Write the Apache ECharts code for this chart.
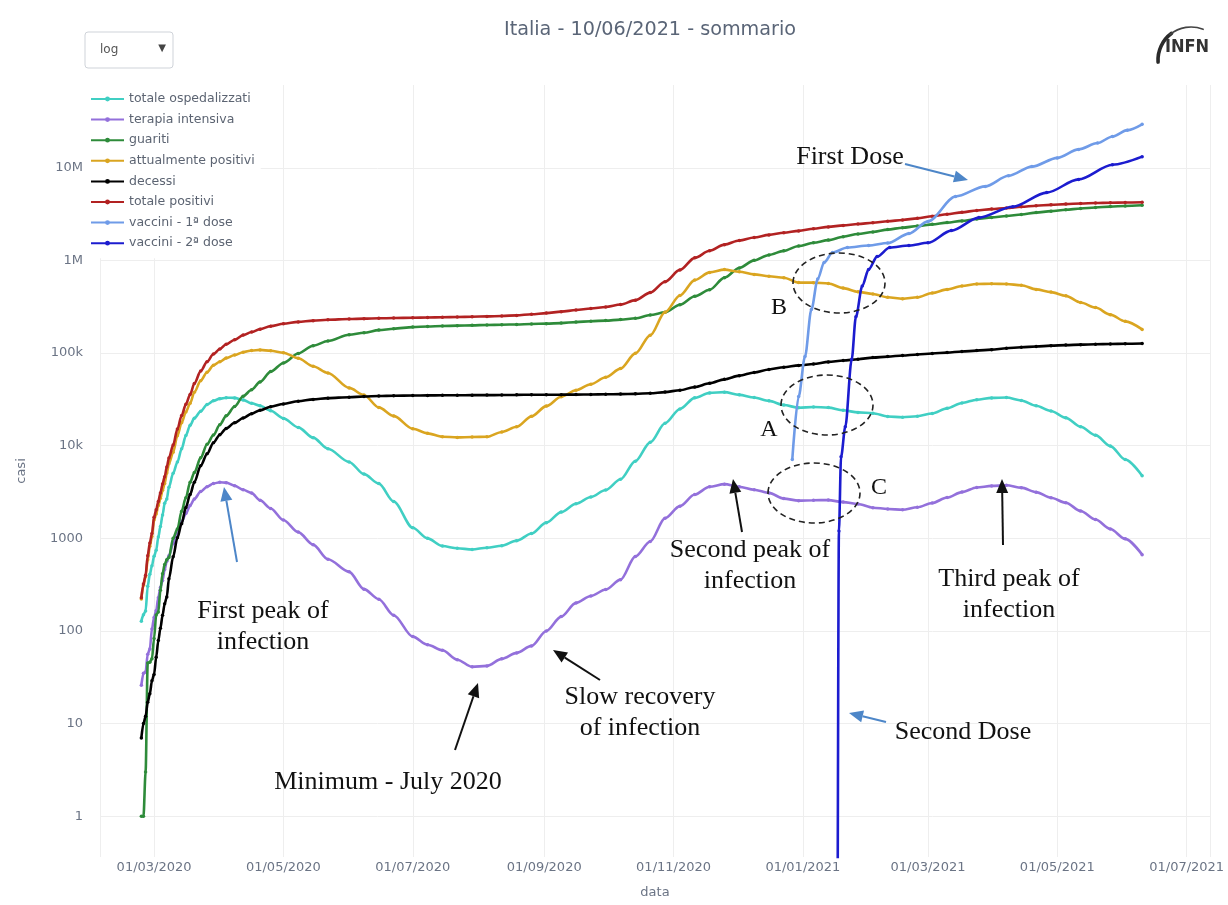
<!DOCTYPE html>
<html><head><meta charset="utf-8">
<script src="https://cdn.jsdelivr.net/npm/echarts@6/dist/echarts.min.js"></script>
<style>html,body{margin:0;padding:0;background:#fff}#chart{width:1228px;height:905px}</style>
</head><body><div id="chart"></div>
<script>
// ---------- DATA ----------
const dates = [
'2020-02-24','2020-02-25','2020-02-26','2020-02-27','2020-02-28','2020-02-29',
'2020-03-01','2020-03-02','2020-03-03','2020-03-04','2020-03-05','2020-03-06','2020-03-07','2020-03-08',
'2020-03-10','2020-03-12','2020-03-14','2020-03-16','2020-03-18','2020-03-20','2020-03-23','2020-03-26','2020-03-29',
'2020-04-01','2020-04-04','2020-04-08','2020-04-12','2020-04-16','2020-04-20','2020-04-25',
'2020-05-01','2020-05-08','2020-05-15','2020-05-22','2020-06-01','2020-06-08','2020-06-15','2020-06-22',
'2020-07-01','2020-07-08','2020-07-15','2020-07-22','2020-07-29','2020-08-05','2020-08-12','2020-08-19','2020-08-26',
'2020-09-02','2020-09-09','2020-09-16','2020-09-23','2020-09-30','2020-10-07','2020-10-14','2020-10-21','2020-10-28',
'2020-11-04','2020-11-11','2020-11-18','2020-11-25','2020-12-02','2020-12-09','2020-12-16','2020-12-23','2020-12-30',
'2021-01-06','2021-01-13','2021-01-20','2021-01-27','2021-02-03','2021-02-10','2021-02-17','2021-02-24',
'2021-03-03','2021-03-10','2021-03-17','2021-03-24','2021-03-31','2021-04-07','2021-04-14','2021-04-21','2021-04-28',
'2021-05-05','2021-05-12','2021-05-19','2021-05-26','2021-06-02','2021-06-10'
];
const totaleOspedalizzati = [
127,150,164,304,409,506,
639,742,1034,1346,1790,2394,2651,3557,
5038,6650,9268,12894,16620,19846,23512,27855,30532,
32215,33004,32809,31242,28741,27047,23805,
19723,15769,12215,9264,6680,4936,3900,2500,
1300,1000,826,781,759,792,832,944,1127,
1478,1920,2366,2797,3328,4344,6816,10876,17496,
24928,32844,37146,37877,35391,33134,30500,27500,25700,
26200,25800,24100,22900,22400,20700,20300,20800,
22300,25300,28900,31400,32800,33100,30800,27000,23700,
20000,16000,13000,9900,7100,4744
];
const terapiaIntensiva = [
26,35,36,56,64,105,
140,166,229,295,351,462,567,650,
877,1153,1518,1851,2257,2655,3204,3612,3906,
4035,3994,3693,3343,3079,2573,2102,
1578,1168,855,595,435,283,220,148,
87,71,62,49,41,42,50,58,69,
100,143,201,239,280,358,638,926,1651,
2225,2971,3612,3848,3597,3345,3095,2687,2553,
2579,2587,2461,2352,2143,2076,2034,2168,
2411,2756,3157,3545,3681,3743,3526,3151,2748,
2423,1973,1595,1261,987,667
];
const guariti = [
1,1,3,45,46,50,
83,149,160,276,414,523,589,622,
1004,1258,1966,2749,4025,5129,7432,10361,13030,
16847,20996,26491,34211,40164,48877,63120,
78249,99023,120205,135082,157707,166052,177010,183204,
190717,193640,196015,197649,199240,201140,202407,203852,206329,
207938,210801,216097,220665,224176,229929,237244,257374,275404,
332471,410090,481967,651670,829259,1001918,1146498,1269871,1433798,
1549616,1658937,1803945,1931491,2028688,2153127,2258083,2351898,
2454145,2560833,2672856,2801204,2916020,3017846,3137476,3286430,3406256,
3522816,3642005,3728079,3812667,3874083,3936627
];
const attualmentePositivi = [
221,311,385,588,821,1049,
1577,1835,2263,2706,3296,3916,5061,6387,
8514,12839,17750,23073,28710,37860,50418,62013,73880,
80572,88274,95262,102253,106607,108237,105847,
100943,87961,72070,60960,42075,35262,25909,20972,
15255,13595,12494,12301,12404,12482,14081,16014,20753,
26754,33789,39712,46114,54791,67950,99266,155442,276457,
418142,613358,743168,796000,755306,706492,675109,651012,576287,
576000,564000,503000,458000,435000,400000,385000,400000,
446000,487000,530000,557000,560000,556000,540000,487000,455000,
415000,351000,310000,260000,220000,180000
];
const decessi = [
7,10,12,17,21,29,
34,52,79,107,148,197,233,366,
631,1016,1441,2158,2978,4032,6077,8165,10779,
13155,15362,17669,19899,22170,24114,26384,
28236,30201,31610,32616,33415,33964,34371,34657,
34788,34914,34997,35082,35132,35181,35225,35412,35458,
35497,35563,35633,35758,35894,36061,36289,36832,37905,
39764,42953,47217,52028,57045,61739,66537,70395,73604,
76329,80326,83157,85881,89344,91580,94171,96666,
98974,101184,103855,106339,108879,112861,115557,117633,120256,
122005,123282,124497,125225,126221,126855
];
const totalePositivi = [
229,322,400,650,888,1128,
1694,2036,2502,3089,3858,4636,5883,7375,
10149,15113,21157,27980,35713,47021,63927,80539,97689,
110574,124632,139422,156363,168941,181228,195351,
207428,217185,223885,228658,233197,235278,237290,238833,
240760,242149,243506,245032,246776,248803,251713,255278,262540,
270189,280153,291442,302537,314861,333940,372799,449648,589766,
790377,1066401,1272352,1480874,1641610,1770149,1888144,1991278,2083689,
2201945,2303263,2390102,2475372,2553032,2644707,2737254,2848564,
2999119,3149017,3306711,3464543,3584899,3686707,3793033,3891063,3981512,
4059821,4116287,4162576,4197892,4220304,4243482
];
const vax1Dates = ['2020-12-27','2020-12-30','2021-01-02','2021-01-05','2021-01-08','2021-01-11','2021-01-15','2021-01-22',
'2021-02-01','2021-02-10','2021-02-20','2021-03-01','2021-03-14','2021-03-28','2021-04-08','2021-04-19',
'2021-05-01','2021-05-11','2021-05-20','2021-05-27','2021-06-03','2021-06-10'];
const vaccini1 = [7100,34000,92000,295000,630000,950000,1220000,1380000,
1450000,1540000,1950000,2640000,4900000,6300000,8200000,10300000,
12800000,15800000,18500000,21800000,25500000,29500000];
const vax2Dates = ['2020-12-27','2021-01-17','2021-01-18','2021-01-19','2021-01-21','2021-01-24','2021-01-26','2021-01-29',
'2021-02-01','2021-02-05','2021-02-11','2021-02-20','2021-03-01','2021-03-12','2021-03-25','2021-04-10',
'2021-04-26','2021-05-11','2021-05-27','2021-06-10'];
const vaccini2 = [0,0,1200,7600,16000,85000,247000,530000,
800000,1100000,1380000,1450000,1550000,2100000,2900000,3800000,
5400000,7500000,10800000,13200000];

const seriesNames = ['totale ospedalizzati','terapia intensiva','guariti','attualmente positivi',
  'decessi','totale positivi','vaccini - 1ª dose','vaccini - 2ª dose'];
const seriesColors = ['#40cfc3','#9370db','#2e8b3a','#daa520','#000000','#b22222','#6f9be8','#1c1ccf'];

// ---------- BUILD ----------
// plotly draws non-positive values on a log axis off the bottom edge; mimic with a tiny value (clipped)
function pairs(ds, vs){ return ds.map((d,i)=>[d, vs[i] > 0 ? vs[i] : 1e-3]); }
const seriesData = [
  pairs(dates, totaleOspedalizzati), pairs(dates, terapiaIntensiva), pairs(dates, guariti),
  pairs(dates, attualmentePositivi), pairs(dates, decessi), pairs(dates, totalePositivi),
  pairs(vax1Dates, vaccini1), pairs(vax2Dates, vaccini2)
];
function fmtDate(v){ const d=new Date(v); const p=n=>String(n).padStart(2,'0');
  return p(d.getDate())+'/'+p(d.getMonth()+1)+'/'+d.getFullYear(); }
function fmtY(v){ const e=Math.log10(v); if (Math.abs(e-Math.round(e))>1e-6) return '';
  const n=Math.round(e); if(n>=6) return Math.pow(10,n-6)+'M'; if(n>=4) return Math.pow(10,n-3)+'k';
  return String(Math.pow(10,n)); }

const TXT = '#6b7485';
const FONT = "'DejaVu Sans', Verdana, sans-serif";
const SERIF = "'Liberation Serif', 'DejaVu Serif', serif";

const chart = echarts.init(document.getElementById('chart'), null, {renderer:'canvas'});

function arrow(x1,y1,x2,y2,color,w){
  const ang=Math.atan2(y2-y1,x2-x1), L=14, H=6;
  const bx=x2-L*Math.cos(ang), by=y2-L*Math.sin(ang);
  const px=-Math.sin(ang)*H, py=Math.cos(ang)*H;
  return [
    {type:'line', shape:{x1:x1,y1:y1,x2:bx,y2:by}, style:{stroke:color,lineWidth:w||2}, z:100},
    {type:'polygon', shape:{points:[[x2,y2],[bx+px,by+py],[bx-px,by-py]]}, style:{fill:color}, z:100}
  ];
}
function label(x,y,text,size){
  return {type:'text', x:x, y:y, z:100, style:{text:text, font:(size||26)+'px '+SERIF, fill:'#111',
    align:'center', verticalAlign:'middle', lineHeight:31}};
}
function ell(cx,cy){
  return {type:'ellipse', shape:{cx:cx,cy:cy,rx:46,ry:30}, z:100,
    style:{fill:null, stroke:'#222', lineWidth:1.6, lineDash:[6,4]}};
}
const blueArrow = '#4d86c8';
const graphics = [].concat(
  [{type:'rect', shape:{x:85,y:32,width:88,height:36,r:3}, style:{fill:'#fff',stroke:'#cfd3d9',lineWidth:1}},
   {type:'text', x:100, y:50, style:{text:'log', font:'12px '+FONT, fill:'#555', verticalAlign:'middle'}},
   {type:'text', x:162, y:48, style:{text:'▼', font:'10px '+FONT, fill:'#444', align:'center', verticalAlign:'middle'}},
   {type:'arc', shape:{cx:1191,cy:60,r:33,startAngle:Math.PI*0.98,endAngle:Math.PI*1.3}, style:{stroke:'#2a2a2a',lineWidth:3.6,fill:null,lineCap:'round'}},
   {type:'arc', shape:{cx:1191,cy:60,r:33,startAngle:Math.PI*1.28,endAngle:Math.PI*1.62}, style:{stroke:'#444',lineWidth:1.6,fill:null,lineCap:'round'}},
   {type:'text', x:1187, y:47, style:{text:'INFN', font:"bold 18px 'Liberation Sans Narrow', 'DejaVu Sans Condensed', sans-serif", fill:'#333', align:'center', verticalAlign:'middle'}}],
  label(850,157,'First Dose'), arrow(905,164,968,180,blueArrow),
  label(963,732,'Second Dose'), arrow(886,722,849,713,blueArrow),
  label(263,627,'First peak of\ninfection'), arrow(237,562,224,487,blueArrow),
  label(388,782,'Minimum - July 2020'), arrow(455,750,478,683,'#111'),
  label(640,713,'Slow recovery\nof infection'), arrow(600,680,553,650,'#111'),
  label(750,566,'Second peak of\ninfection'), arrow(742,532,733,479,'#111'),
  label(1009,595,'Third peak of\ninfection'), arrow(1003,545,1002,479,'#111'),
  label(769,430,'A',24), label(779,308,'B',24), label(879,488,'C',24),
  ell(839,283), ell(827,405), ell(814,493)
);

const option = {
  animation:false,
  backgroundColor:'#fff',
  title:{text:'Italia - 10/06/2021 - sommario', left:499, top:16,
    textStyle:{fontFamily:FONT, fontSize:19.2, fontWeight:'normal', color:'#5a6577'}},
  legend:{
    data:seriesNames, orient:'vertical', left:86, top:85, padding:[7,6,8,4],
    backgroundColor:'#fff', itemWidth:33, itemHeight:6, itemGap:6.6, z:50,
    textStyle:{fontFamily:FONT, fontSize:12.5, color:'#5c6472', lineHeight:14}
  },
  grid:{left:100, right:18, top:85, bottom:48, containLabel:false},
  xAxis:{
    type:'time', min:'2020-02-04 12:00:00', max:'2021-07-12 00:00:00', splitNumber:8,
    name:'data', nameLocation:'middle', nameGap:29,
    nameTextStyle:{fontFamily:FONT, fontSize:13, color:TXT},
    axisLine:{show:false}, axisTick:{show:false},
    axisLabel:{formatter:fmtDate, margin:4, hideOverlap:false,
      fontFamily:FONT, fontSize:13, color:TXT},
    splitLine:{show:true, lineStyle:{color:'#eeeeee', width:1}}
  },
  yAxis:{
    type:'log', logBase:10, min:0.3631, max:78.34e6,
    name:'casi', nameLocation:'middle', nameGap:72,
    nameTextStyle:{fontFamily:FONT, fontSize:13, color:TXT},
    axisLine:{show:false}, axisTick:{show:false},
    axisLabel:{formatter:fmtY, margin:17, fontFamily:FONT, fontSize:13, color:TXT,
      showMinLabel:false, showMaxLabel:false},
    splitLine:{show:true, showMinLine:false, showMaxLine:false, lineStyle:{color:'#eeeeee', width:1}},
    minorSplitLine:{show:false}
  },
  series: seriesNames.map((n,i)=>({
    name:n, type:'line', data:seriesData[i], clip:true,
    smooth:0.3, smoothMonotone:'x',
    symbol:'circle', symbolSize:3.5, showSymbol:true, showAllSymbol:true,
    lineStyle:{width:2.6, color:seriesColors[i]}, itemStyle:{color:seriesColors[i]},
    emphasis:{disabled:true}, z:2+i
  })),
  graphic: graphics
};
chart.setOption(option);
</script></body></html>
